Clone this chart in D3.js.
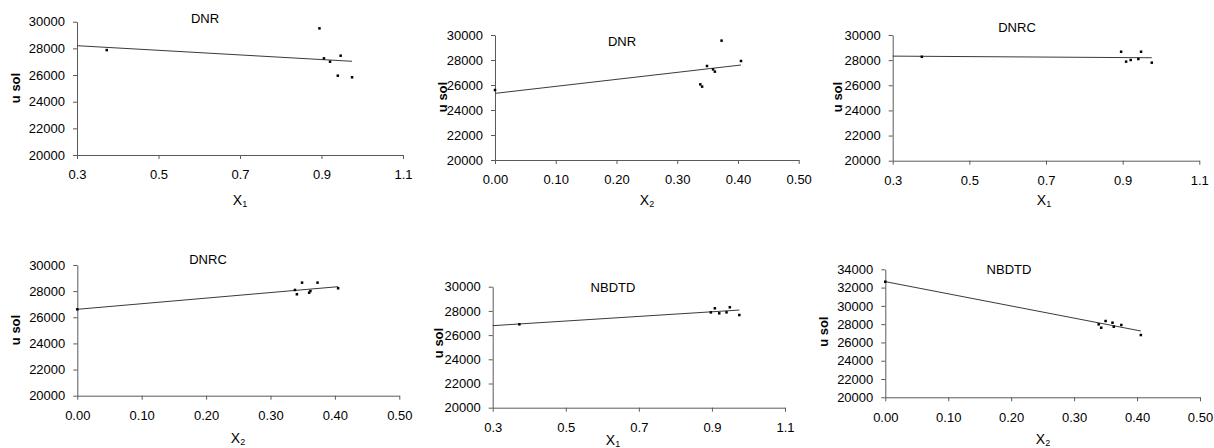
<!DOCTYPE html>
<html>
<head>
<meta charset="utf-8">
<script src="https://cdn.jsdelivr.net/npm/d3@7"></script>
<style>
  body { margin: 0; background: #fff; }
  text { font-family: "Liberation Sans", Arial, sans-serif; fill: #000; }
</style>
</head>
<body>
<script>
// sample points: [x, u sol]
var dnrX1 = [[0.373, 27870], [0.895, 29500], [0.906, 27250], [0.921, 27000], [0.940, 25950], [0.947, 27450], [0.975, 25830]];
var dnrX2 = [[0.000, 25600], [0.338, 26050], [0.341, 25870], [0.349, 27520], [0.359, 27250], [0.362, 27070], [0.373, 29550], [0.405, 27920]];
var dnrcX1 = [[0.376, 28270], [0.896, 28670], [0.909, 27880], [0.921, 28010], [0.941, 28090], [0.948, 28670], [0.976, 27800]];
var dnrcX2 = [[0.000, 26610], [0.338, 28090], [0.341, 27760], [0.349, 28650], [0.360, 27880], [0.362, 28010], [0.373, 28650], [0.405, 28220]];
var nbdtdX1 = [[0.373, 26890], [0.897, 27880], [0.908, 28215], [0.920, 27800], [0.940, 27880], [0.949, 28300], [0.975, 27660]];
var nbdtdX2 = [[0.000, 32640], [0.339, 27980], [0.343, 27610], [0.350, 28345], [0.361, 28160], [0.363, 27720], [0.375, 27910], [0.406, 26810]];

// trend line end points
var trendDnrX1 = [[0.3, 28200], [0.975, 27030]];
var trendDnrX2 = [[0, 25330], [0.405, 27600]];
var trendDnrcX1 = [[0.3, 28320], [0.976, 28190]];
var trendDnrcX2 = [[0, 26610], [0.405, 28340]];
var trendNbdtdX1 = [[0.3, 26780], [0.975, 28070]];
var trendNbdtdX2 = [[0, 32650], [0.406, 27250]];

var titles = ["DNR", "DNR", "DNRC", "DNRC", "NBDTD", "NBDTD"];
var xSubs = ["1", "2", "1", "2", "1", "2"];
var ticksX1 = [0.3, 0.5, 0.7, 0.9, 1.1];
var ticksX2 = [0, 0.1, 0.2, 0.3, 0.4, 0.5];
var ticksY30 = [20000, 22000, 24000, 26000, 28000, 30000];
var ticksY34 = [20000, 22000, 24000, 26000, 28000, 30000, 32000, 34000];

var points = [dnrX1, dnrX2, dnrcX1, dnrcX2, nbdtdX1, nbdtdX2];
var trends = [trendDnrX1, trendDnrX2, trendDnrcX1, trendDnrcX2, trendNbdtdX1, trendNbdtdX2];

// where each small chart sits on the page
var layout = [
  {l: 77, r: 403, t: 21.7, b: 155, tx: 205, ty: 18, yl: 15, yly: 88, xl: 240, xly: 200},
  {l: 495, r: 798.7, t: 35, b: 160, tx: 622, ty: 41.5, yl: 442, yly: 97, xl: 647, xly: 200},
  {l: 892.7, r: 1199.3, t: 35, b: 160.7, tx: 1017, ty: 27, yl: 837, yly: 97, xl: 1044, xly: 200},
  {l: 77.3, r: 399.3, t: 265, b: 395.7, tx: 208, ty: 259, yl: 15, yly: 330, xl: 238, xly: 438},
  {l: 492.7, r: 785, t: 286.7, b: 407.7, tx: 613, ty: 287.3, yl: 438, yly: 343, xl: 613, xly: 440},
  {l: 885.3, r: 1200, t: 269.3, b: 397.3, tx: 1009, ty: 269, yl: 823, yly: 331.7, xl: 1043, xly: 439}
];

var svg = d3.select("body").append("svg").attr("width", 1214).attr("height", 448);

for (let i = 0; i < 6; i++) {
  let L = layout[i];
  let xt = xSubs[i] === "1" ? ticksX1 : ticksX2;
  let yt = i === 5 ? ticksY34 : ticksY30;
  let x = d3.scaleLinear().domain([xt[0], xt[xt.length - 1]]).range([L.l, L.r]);
  let y = d3.scaleLinear().domain([yt[0], yt[yt.length - 1]]).range([L.b, L.t]);
  let fmt = xSubs[i] === "1" ? d3.format(".1f") : d3.format(".2f");

  let g = svg.append("g");

  let ax = g.append("g").attr("transform", "translate(0," + L.b + ")")
    .call(d3.axisBottom(x).tickValues(xt).tickFormat(fmt).tickSizeInner(4).tickSizeOuter(0).tickPadding(11));
  let ay = g.append("g").attr("transform", "translate(" + L.l + ",0)")
    .call(d3.axisLeft(y).tickValues(yt).tickFormat(d3.format("d")).tickSizeInner(4).tickSizeOuter(0).tickPadding(8));
  [ax, ay].forEach(function(a) {
    a.select(".domain").attr("stroke", "#5a5a5a");
    a.selectAll(".tick line").attr("stroke", "#5a5a5a");
    a.selectAll(".tick text").attr("font-size", 13).attr("fill", "#000")
      .attr("font-family", "Liberation Sans, Arial, sans-serif");
  });

  g.append("line")
    .attr("x1", x(trends[i][0][0])).attr("y1", y(trends[i][0][1]))
    .attr("x2", x(trends[i][1][0])).attr("y2", y(trends[i][1][1]))
    .attr("stroke", "#3a3a3a").attr("stroke-width", 1);

  g.selectAll("rect.pt").data(points[i]).enter().append("rect")
    .attr("class", "pt")
    .attr("x", function(d) { return x(d[0]) - 1.25; })
    .attr("y", function(d) { return y(d[1]) - 1.25; })
    .attr("width", 2.5).attr("height", 2.5)
    .attr("fill", "#000");

  g.append("text").attr("x", L.tx).attr("y", L.ty + 4.5)
    .attr("text-anchor", "middle").attr("font-size", 13).text(titles[i]);

  g.append("text")
    .attr("transform", "translate(" + (L.yl + 4.5) + "," + L.yly + ") rotate(-90)")
    .attr("text-anchor", "middle").attr("font-size", 13).attr("font-weight", "bold").text("u sol");

  let xl = g.append("text").attr("x", L.xl).attr("y", L.xly + 5)
    .attr("text-anchor", "middle").attr("font-size", 14);
  xl.append("tspan").text("X");
  xl.append("tspan").attr("font-size", 9).attr("dy", 1.5).text(xSubs[i]);
}
</script>
</body>
</html>
